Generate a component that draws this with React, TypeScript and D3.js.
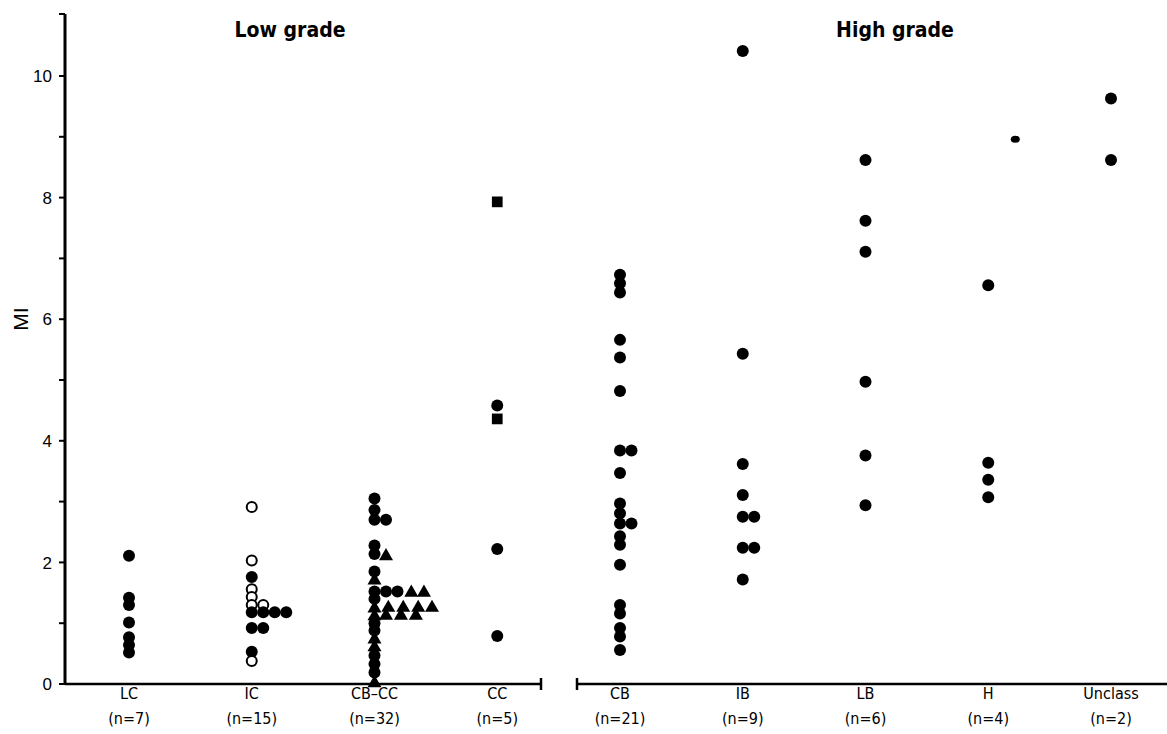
import React from "react";
import * as d3 from "d3";

const categories = ["LC", "IC", "CB–CC", "CC", "CB", "IB", "LB", "H", "Unclass"];
const counts = [7, 15, 32, 5, 21, 9, 6, 4, 2];
const groupTitles = ["Low grade", "High grade"];
const yTicks = [0, 2, 4, 6, 8, 10];
const yMinorTicks = [1, 3, 5, 7, 9];

// [value, stack slot, shape]  c = filled circle, o = open circle, t = triangle, s = square
type Pt = [number, number, string];
const lcPoints: Pt[] = [[2.11, 0, "c"], [1.42, 0, "c"], [1.30, 0, "c"], [1.01, 0, "c"], [0.77, 0, "c"], [0.64, 0, "c"], [0.52, 0, "c"]];
const icPoints: Pt[] = [
  [2.91, 0, "o"], [2.03, 0, "o"], [1.76, 0, "c"], [1.56, 0, "o"], [1.43, 0, "o"], [1.30, 0, "o"], [1.30, 1, "o"],
  [1.18, 0, "c"], [1.18, 1, "c"], [1.18, 2, "c"], [1.18, 3, "c"], [0.92, 0, "c"], [0.92, 1, "c"], [0.53, 0, "c"], [0.38, 0, "o"],
];
const cbccPoints: Pt[] = [
  [3.05, 0, "c"], [2.86, 0, "c"], [2.70, 0, "c"], [2.70, 1, "c"], [2.28, 0, "c"], [2.14, 0, "c"], [2.12, 1, "t"],
  [1.85, 0, "c"], [1.72, 0, "t"], [1.52, 0, "c"], [1.52, 1, "c"], [1.52, 2, "c"], [1.52, 3.2, "t"], [1.52, 4.3, "t"],
  [1.27, 1.2, "t"], [1.27, 2.5, "t"], [1.27, 3.8, "t"], [1.27, 5.0, "t"], [1.14, 1.0, "t"], [1.14, 2.3, "t"], [1.14, 3.6, "t"],
  [1.40, 0, "c"], [1.26, 0, "t"], [1.13, 0, "t"], [1.00, 0, "c"], [0.88, 0, "c"], [0.75, 0, "t"], [0.62, 0, "t"],
  [0.47, 0, "c"], [0.33, 0, "c"], [0.19, 0, "c"], [0.03, 0, "t"],
];
const ccPoints: Pt[] = [[7.93, 0, "s"], [4.58, 0, "c"], [4.36, 0, "s"], [2.22, 0, "c"], [0.79, 0, "c"]];
const cbPoints: Pt[] = [
  [6.73, 0, "c"], [6.59, 0, "c"], [6.44, 0, "c"], [5.66, 0, "c"], [5.37, 0, "c"], [4.82, 0, "c"], [3.84, 0, "c"], [3.84, 1, "c"],
  [3.47, 0, "c"], [2.97, 0, "c"], [2.81, 0, "c"], [2.64, 0, "c"], [2.64, 1, "c"], [2.43, 0, "c"], [2.29, 0, "c"], [1.96, 0, "c"],
  [1.30, 0, "c"], [1.16, 0, "c"], [0.92, 0, "c"], [0.78, 0, "c"], [0.56, 0, "c"],
];
const ibPoints: Pt[] = [[10.41, 0, "c"], [5.43, 0, "c"], [3.62, 0, "c"], [3.11, 0, "c"], [2.75, 0, "c"], [2.75, 1, "c"], [2.24, 0, "c"], [2.24, 1, "c"], [1.72, 0, "c"]];
const lbPoints: Pt[] = [[8.62, 0, "c"], [7.62, 0, "c"], [7.11, 0, "c"], [4.97, 0, "c"], [3.76, 0, "c"], [2.94, 0, "c"]];
const hPoints: Pt[] = [[6.56, 0, "c"], [3.64, 0, "c"], [3.36, 0, "c"], [3.07, 0, "c"]];
const unclassPoints: Pt[] = [[9.63, 0, "c"], [8.62, 0, "c"]];
// small stray mark printed in the original figure
const strayMarks: [string, number, number][] = [["H", 8.96, 2.35]];

const seriesByCategory: Pt[][] = [lcPoints, icPoints, cbccPoints, ccPoints, cbPoints, ibPoints, lbPoints, hPoints, unclassPoints];

const W = 1167;
const H = 734;
const FONT = "'Liberation Sans Narrow', 'Arial Narrow', 'DejaVu Sans Condensed', 'Liberation Sans', sans-serif";
const FONT2 = "'Liberation Sans', Arial, sans-serif";

export default function App() {
  const y = d3.scaleLinear().domain([0, 10]).range([684, 76]);
  const x = d3.scalePoint<string>().domain(categories).range([129, 1111]);
  const axisX = 65;
  const slotW = 11.5;
  const r = 6;
  const tri = d3.symbol().type(d3.symbolTriangle).size(85)();
  const sq = d3.symbol().type(d3.symbolSquare).size(115)();
  const y0 = y(0);
  const breakLeft = 541;
  const breakRight = 577;

  const marks: React.ReactNode[] = [];
  seriesByCategory.forEach((pts, ci) => {
    const cx0 = x(categories[ci]) as number;
    pts.forEach((p, i) => {
      const [v, slot, shape] = p;
      const cx = cx0 + slot * slotW;
      const cy = y(v);
      const key = `${ci}-${i}`;
      if (shape === "c") marks.push(<circle key={key} cx={cx} cy={cy} r={r} fill="#000" />);
      else if (shape === "o") marks.push(<circle key={key} cx={cx} cy={cy} r={5} fill="#fff" stroke="#000" strokeWidth={2} />);
      else if (shape === "t") marks.push(<path key={key} d={tri || ""} transform={`translate(${cx},${cy + 1})`} fill="#000" />);
      else if (shape === "s") marks.push(<path key={key} d={sq || ""} transform={`translate(${cx},${cy})`} fill="#000" />);
    });
  });

  return (
    <svg width={W} height={H} style={{ position: "absolute", left: 0, top: 0, background: "#fff" }}>
      <rect x={0} y={0} width={W} height={H} fill="#fff" />
      {/* y axis */}
      <line x1={axisX} x2={axisX} y1={y(11.02)} y2={y0 + 1} stroke="#000" strokeWidth={3} />
      {yTicks.map((t) => (
        <g key={`t${t}`}>
          <line x1={axisX - 6} x2={axisX} y1={y(t)} y2={y(t)} stroke="#000" strokeWidth={2} />
          <text x={axisX - 13} y={y(t)} dy="0.36em" textAnchor="end" fontFamily={FONT2} fontSize={17} fill="#000">{t}</text>
        </g>
      ))}
      {yMinorTicks.map((t) => (
        <line key={`m${t}`} x1={axisX - 6} x2={axisX} y1={y(t)} y2={y(t)} stroke="#000" strokeWidth={2} />
      ))}
      <line x1={axisX - 6} x2={axisX} y1={y(11.02)} y2={y(11.02)} stroke="#000" strokeWidth={2} />
      <text transform={`translate(28,${y(6)}) rotate(-90)`} textAnchor="middle" fontFamily={FONT2} fontSize={21} fill="#000">MI</text>

      {/* x axis segments */}
      <line x1={axisX} x2={breakLeft} y1={y0} y2={y0} stroke="#000" strokeWidth={2.5} />
      <line x1={breakLeft} x2={breakLeft} y1={y0 - 6} y2={y0 + 6} stroke="#000" strokeWidth={2.5} />
      <line x1={breakRight} x2={W} y1={y0} y2={y0} stroke="#000" strokeWidth={2.5} />
      <line x1={breakRight} x2={breakRight} y1={y0 - 6} y2={y0 + 6} stroke="#000" strokeWidth={2.5} />

      {categories.map((c, i) => (
        <g key={c} fontFamily={FONT} fontSize={16} fill="#000" textAnchor="middle">
          <text x={x(c)} y={699}>{c}</text>
          <text x={x(c)} y={724}>{`(n=${counts[i]})`}</text>
        </g>
      ))}

      <text x={290} y={37} textAnchor="middle" fontFamily={FONT} fontSize={21} fontWeight="bold" fill="#000">{groupTitles[0]}</text>
      <text x={895} y={37} textAnchor="middle" fontFamily={FONT} fontSize={21} fontWeight="bold" fill="#000">{groupTitles[1]}</text>

      {marks}
      {strayMarks.map(([c, v, slot], i) => (
        <ellipse key={`s${i}`} cx={(x(c) as number) + slot * slotW} cy={y(v)} rx={4.5} ry={3.5} fill="#000" />
      ))}
    </svg>
  );
}
